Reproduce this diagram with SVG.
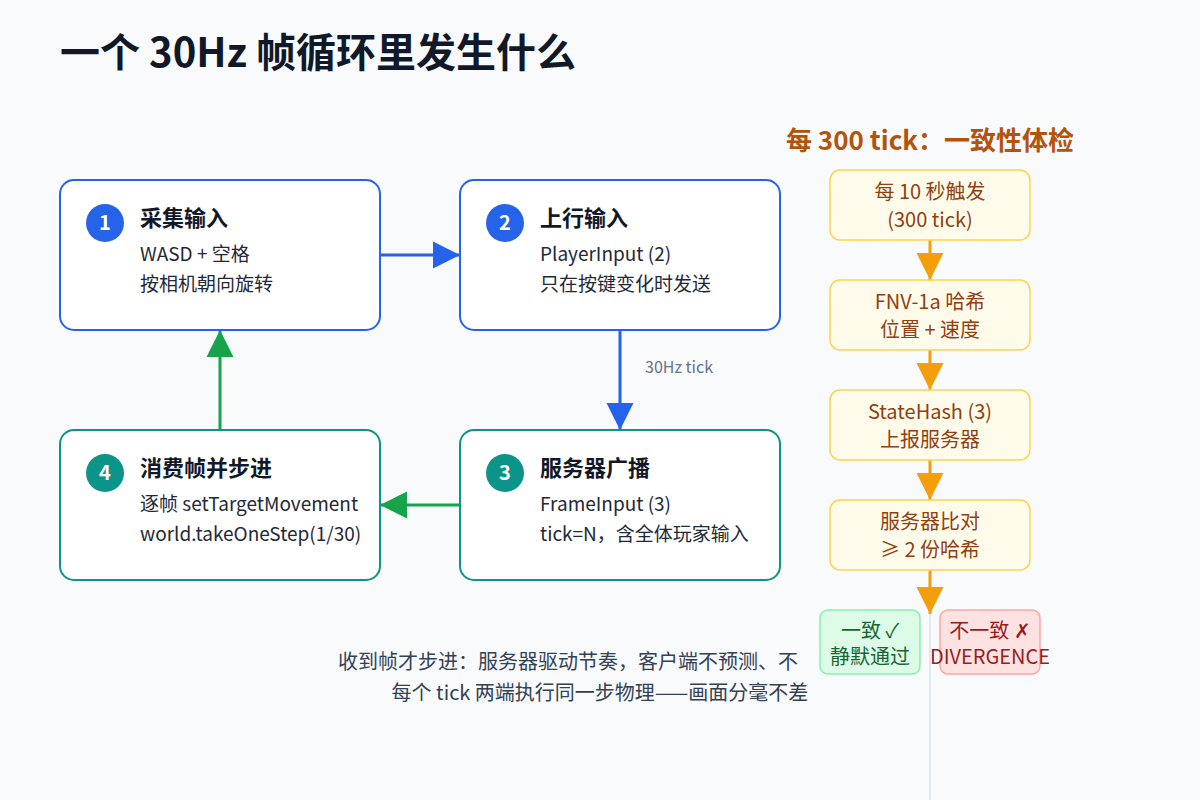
<svg xmlns="http://www.w3.org/2000/svg" width="1200" height="800" viewBox="0 0 1200 800">
<style>
text{font-family:"Noto Sans CJK SC","Noto Sans",sans-serif}
.t{font-size:22px;font-weight:bold;fill:#111827}
.b{font-size:19px;fill:#1f2937}
.n{font-size:20px;font-weight:bold;fill:#fff}
.r{font-size:20px;fill:#92400e;text-anchor:middle}
.rb{fill:#fffbeb;stroke:#fcd34d;stroke-width:1.5}
</style>
<defs>
<marker id="ag" viewBox="0 0 10 10" refX="10" refY="5" markerWidth="9" markerHeight="10" orient="auto" markerUnits="strokeWidth"><path d="M0,0L10,5L0,10z" fill="#16a34a"/></marker>
<marker id="ao" viewBox="0 0 10 10" refX="10" refY="5" markerWidth="9" markerHeight="10" orient="auto" markerUnits="strokeWidth"><path d="M0,0L10,5L0,10z" fill="#f59e0b"/></marker>
<marker id="ab2" viewBox="0 0 10 10" refX="10" refY="5" markerWidth="9" markerHeight="10" orient="auto" markerUnits="strokeWidth"><path d="M0,0L10,5L0,10z" fill="#2563eb"/></marker>
</defs>
<rect width="1200" height="800" fill="#f8fafc"/>
<text x="60" y="67" style="font-size:40px;font-weight:bold;fill:#111827">一个 30Hz 帧循环里发生什么</text>
<line x1="930" y1="240" x2="930" y2="800" stroke="#e2e8f0" stroke-width="2"/>
<g id="connectors">
<line x1="380" y1="255" x2="460" y2="255" stroke="#2563eb" stroke-width="3" marker-end="url(#ab2)"/>
<line x1="620" y1="330" x2="620" y2="430" stroke="#2563eb" stroke-width="3" marker-end="url(#ab2)"/>
<text x="645" y="373" style="font-size:16px;fill:#64748b">30Hz tick</text>
<line x1="460" y1="505" x2="380" y2="505" stroke="#16a34a" stroke-width="3" marker-end="url(#ag)"/>
<line x1="220" y1="430" x2="220" y2="330" stroke="#16a34a" stroke-width="3" marker-end="url(#ag)"/>
<line x1="930" y1="240" x2="930" y2="280" stroke="#f59e0b" stroke-width="3" marker-end="url(#ao)"/>
<line x1="930" y1="350" x2="930" y2="390" stroke="#f59e0b" stroke-width="3" marker-end="url(#ao)"/>
<line x1="930" y1="460" x2="930" y2="500" stroke="#f59e0b" stroke-width="3" marker-end="url(#ao)"/>
<line x1="930" y1="570" x2="930" y2="614" stroke="#f59e0b" stroke-width="3" marker-end="url(#ao)"/>
</g>
<g id="n1"><rect x="60" y="180" width="320" height="150" rx="14" fill="#fff" stroke="#2563eb" stroke-width="2"/><circle cx="105" cy="223" r="19" fill="#2563eb"/><text x="105" y="230" class="n" text-anchor="middle">1</text><text x="140" y="226" class="t">采集输入</text><text x="140" y="261" class="b">WASD + 空格</text><text x="140" y="291" class="b">按相机朝向旋转</text></g>
<g id="n2"><rect x="460" y="180" width="320" height="150" rx="14" fill="#fff" stroke="#2563eb" stroke-width="2"/><circle cx="505" cy="223" r="19" fill="#2563eb"/><text x="505" y="230" class="n" text-anchor="middle">2</text><text x="540" y="226" class="t">上行输入</text><text x="540" y="261" class="b">PlayerInput (2)</text><text x="540" y="291" class="b">只在按键变化时发送</text></g>
<g id="n3"><rect x="460" y="430" width="320" height="150" rx="14" fill="#fff" stroke="#0d9488" stroke-width="2"/><circle cx="505" cy="473" r="19" fill="#0d9488"/><text x="505" y="480" class="n" text-anchor="middle">3</text><text x="540" y="476" class="t">服务器广播</text><text x="540" y="511" class="b">FrameInput (3)</text><text x="540" y="541" class="b">tick=N，含全体玩家输入</text></g>
<g id="n4"><rect x="60" y="430" width="320" height="150" rx="14" fill="#fff" stroke="#0d9488" stroke-width="2"/><circle cx="105" cy="473" r="19" fill="#0d9488"/><text x="105" y="480" class="n" text-anchor="middle">4</text><text x="140" y="476" class="t">消费帧并步进</text><text x="140" y="511" class="b">逐帧 setTargetMovement</text><text x="140" y="541" class="b">world.takeOneStep(1/30)</text></g>
<text x="930" y="150" text-anchor="middle" style="font-size:26px;font-weight:bold;fill:#b45309">每 300 tick：一致性体检</text>
<g id="r1"><rect x="830" y="170" width="200" height="70" rx="10" class="rb"/><text x="930" y="199" class="r">每 10 秒触发</text><text x="930" y="227" class="r">(300 tick)</text></g>
<g id="r2"><rect x="830" y="280" width="200" height="70" rx="10" class="rb"/><text x="930" y="309" class="r">FNV-1a 哈希</text><text x="930" y="337" class="r">位置 + 速度</text></g>
<g id="r3"><rect x="830" y="390" width="200" height="70" rx="10" class="rb"/><text x="930" y="419" class="r">StateHash (3)</text><text x="930" y="447" class="r">上报服务器</text></g>
<g id="r4"><rect x="830" y="500" width="200" height="70" rx="10" class="rb"/><text x="930" y="529" class="r">服务器比对</text><text x="930" y="557" class="r">≥ 2 份哈希</text></g>
<text x="338" y="669" style="font-size:20px;fill:#334155">收到帧才步进：服务器驱动节奏，客户端不预测、不</text>
<text x="600" y="700" text-anchor="middle" style="font-size:20px;fill:#334155">每个 tick 两端执行同一步物理——画面分毫不差</text>
<g id="ok"><rect x="820" y="610" width="100" height="64" rx="8" fill="#dcfce7" stroke="#86efac" stroke-width="1.5"/><text x="870" y="638" text-anchor="middle" style="font-size:20px;fill:#166534">一致 ✓</text><text x="870" y="664" text-anchor="middle" style="font-size:20px;fill:#166534">静默通过</text></g>
<g id="bad"><rect x="940" y="610" width="100" height="64" rx="8" fill="#fee2e2" stroke="#fca5a5" stroke-width="1.5"/><text x="990" y="638" text-anchor="middle" style="font-size:20px;fill:#991b1b">不一致 ✗</text><text x="990" y="664" text-anchor="middle" style="font-size:20px;fill:#991b1b">DIVERGENCE</text></g>
</svg>
